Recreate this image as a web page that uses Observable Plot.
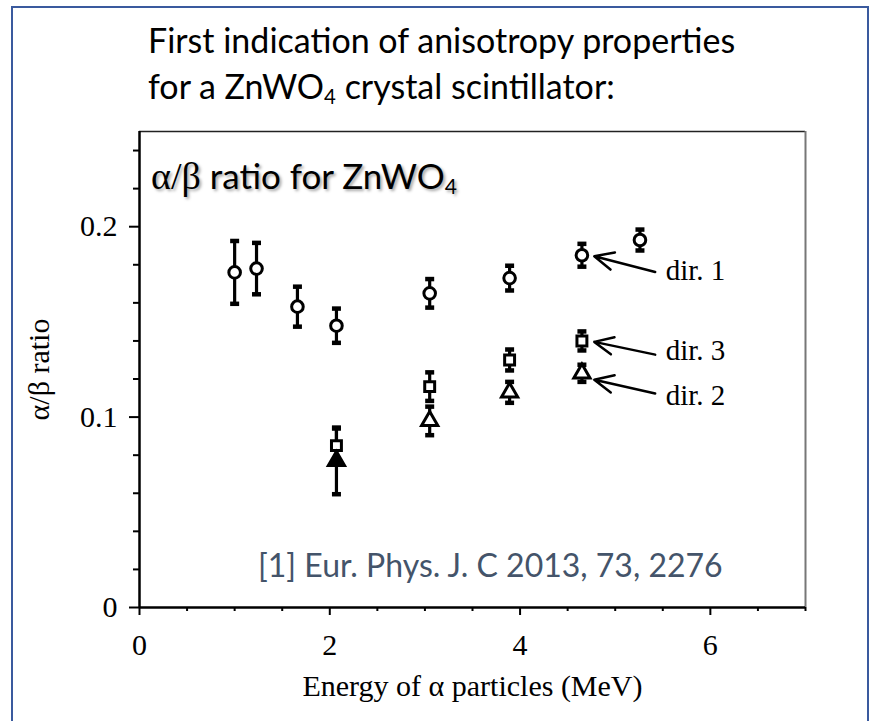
<!DOCTYPE html>
<html><head><meta charset="utf-8">
<script src="https://cdn.jsdelivr.net/npm/d3@7"></script>
<script src="https://cdn.jsdelivr.net/npm/@observablehq/plot@0.6"></script>
<style>
body{margin:0;background:#fff;}
#wrap{position:relative;width:874px;height:721px;overflow:hidden;font-family:Lato,"Open Sans",sans-serif;}
#border{position:absolute;left:11px;top:6px;width:858px;height:800px;border:2.5px solid #3A5A9E;box-sizing:border-box;}
#title{position:absolute;left:148px;top:17px;font-size:34px;line-height:46px;color:#000;white-space:nowrap;}
#title sub, #inner sub{font-size:0.6em;vertical-align:-0.25em;line-height:0;}
#plot{position:absolute;left:0;top:110px;}
#inner{position:absolute;left:151px;top:154px;font-size:35px;color:#000;white-space:nowrap;text-shadow:2px 2px 3px rgba(0,0,0,0.35);}
#inner .g{font-family:"Liberation Serif","Times New Roman",serif;font-size:38px;}
#cite{position:absolute;left:258px;top:545px;font-size:32px;color:#44546A;white-space:nowrap;}
</style></head>
<body>
<div id="wrap">
  <div id="border"></div>
  <div id="title">First indication of anisotropy properties<br>for a ZnWO<sub>4</sub> crystal scintillator:</div>
  <div id="plot"></div>
  <div id="inner"><span class="g">α/β</span> ratio for ZnWO<sub>4</sub></div>
  <div id="cite">[1] Eur. Phys. J. C 2013, 73, 2276</div>
</div>
<script>
// dir. 1 (circles)
const energy1 = [1.0, 1.23, 1.66, 2.07, 3.05, 3.89, 4.65, 5.26];
const ratio1  = [0.176, 0.178, 0.158, 0.148, 0.165, 0.173, 0.185, 0.193];
const err1    = [0.0165, 0.0135, 0.0105, 0.009, 0.0075, 0.0065, 0.006, 0.0055];
// dir. 3 (squares)
const energy3 = [2.07, 3.05, 3.89, 4.65];
const ratio3  = [0.085, 0.116, 0.130, 0.140];
const err3    = [0.009, 0.0075, 0.0055, 0.005];
// dir. 2 (triangles)
const energy2 = [2.07, 3.05, 3.89, 4.65];
const ratio2  = [0.077, 0.098, 0.113, 0.123];
const err2    = [0.0175, 0.0075, 0.0055, 0.0045];
// axis ticks
const xMajor = [0, 2, 4, 6];
const xMinor = [0.5, 1, 1.5, 2.5, 3, 3.5, 4.5, 5, 5.5, 6.5, 7];
const yMajor = [0, 0.1, 0.2];
const yMinor = [0.02, 0.04, 0.06, 0.08, 0.12, 0.14, 0.16, 0.18, 0.22, 0.24];
// annotations
const dirLabels = ["dir. 1", "dir. 3", "dir. 2"];
const labelX = [5.53, 5.53, 5.53];
const labelY = [0.177, 0.135, 0.111];
const arrowTailX = [5.42, 5.42, 5.42];
const arrowTailY = [0.1762, 0.1328, 0.1124];
const arrowHeadX = [4.78, 4.78, 4.78];
const arrowHeadY = [0.1845, 0.1395, 0.1196];

const mk = (xs, ys, es) => xs.map((x, i) => ({x, y: ys[i], lo: ys[i] - es[i], hi: ys[i] + es[i]}));
const dir1 = mk(energy1, ratio1, err1);
const dir3 = mk(energy3, ratio3, err3);
const dir2 = mk(energy2, ratio2, err2);
const all = [...dir1, ...dir3, ...dir2];
const ann = dirLabels.map((t, i) => ({t, lx: labelX[i], ly: labelY[i], x1: arrowTailX[i], y1: arrowTailY[i], x2: arrowHeadX[i], y2: arrowHeadY[i]}));

const cap = {draw(ctx) { ctx.moveTo(-4.5, 0); ctx.lineTo(4.5, 0); }};
const serif = "'Liberation Serif','Times New Roman',serif";

const chart = Plot.plot({
  width: 874, height: 611,
  marginLeft: 139, marginRight: 69, marginTop: 21, marginBottom: 114,
  x: {domain: [0, 7]},
  y: {domain: [0, 0.25]},
  style: {fontFamily: serif, fontSize: "30px", color: "#000", background: "transparent", overflow: "visible"},
  marks: [
    Plot.ruleY([0.25], {stroke: "#222", strokeWidth: 1.5}),
    Plot.ruleX([7], {stroke: "#777", strokeWidth: 2}),
    Plot.axisX({ticks: xMinor, tickSize: 4, tickFormat: () => "", strokeWidth: 2, label: null}),
    Plot.axisX({ticks: xMajor, tickSize: 8, tickPadding: 18, strokeWidth: 2, tickFormat: d => String(d), fontSize: 30,
      label: "Energy of α particles (MeV)", labelAnchor: "center", labelArrow: "none", labelOffset: 88}),
    Plot.axisY({ticks: yMinor, tickSize: 6, tickFormat: () => "", strokeWidth: 2, label: null}),
    Plot.axisY({ticks: yMajor, tickSize: 10, tickPadding: 12, strokeWidth: 2, tickFormat: d => d === 0 ? "0" : d.toFixed(1), fontSize: 30,
      label: "α/β ratio", labelAnchor: "center", labelArrow: "none", labelOffset: 112}),
    Plot.ruleY([0], {strokeWidth: 2.5}),
    Plot.ruleX([0], {strokeWidth: 2.5}),
    // error bars
    Plot.ruleX(all, {x: "x", y1: "lo", y2: "hi", strokeWidth: 3.2}),
    Plot.dot(all, {x: "x", y: "lo", symbol: cap, stroke: "black", fill: "none", strokeWidth: 4.5}),
    Plot.dot(all, {x: "x", y: "hi", symbol: cap, stroke: "black", fill: "none", strokeWidth: 4.5}),
    // markers
    Plot.dot(dir1, {x: "x", y: "y", symbol: "circle", r: 5.8, fill: "white", stroke: "black", strokeWidth: 3}),
    Plot.dot(dir3, {x: "x", y: "y", symbol: "square", r: 5.6, fill: "white", stroke: "black", strokeWidth: 3}),
    Plot.dot(dir2, {x: "x", y: "y", symbol: "triangle", r: 6, fill: (d, i) => i === 0 ? "black" : "white", stroke: "black", strokeWidth: 3}),
    // annotations
    Plot.arrow(ann, {x1: "x1", y1: "y1", x2: "x2", y2: "y2", bend: 0, headLength: 13, headAngle: 50, strokeWidth: 2.5, stroke: "black"}),
    Plot.text(ann, {x: "lx", y: "ly", text: "t", textAnchor: "start", lineAnchor: "middle", fontSize: 29, fontFamily: serif, fill: "black"})
  ]
});
document.getElementById("plot").appendChild(chart);
</script>
</body></html>
